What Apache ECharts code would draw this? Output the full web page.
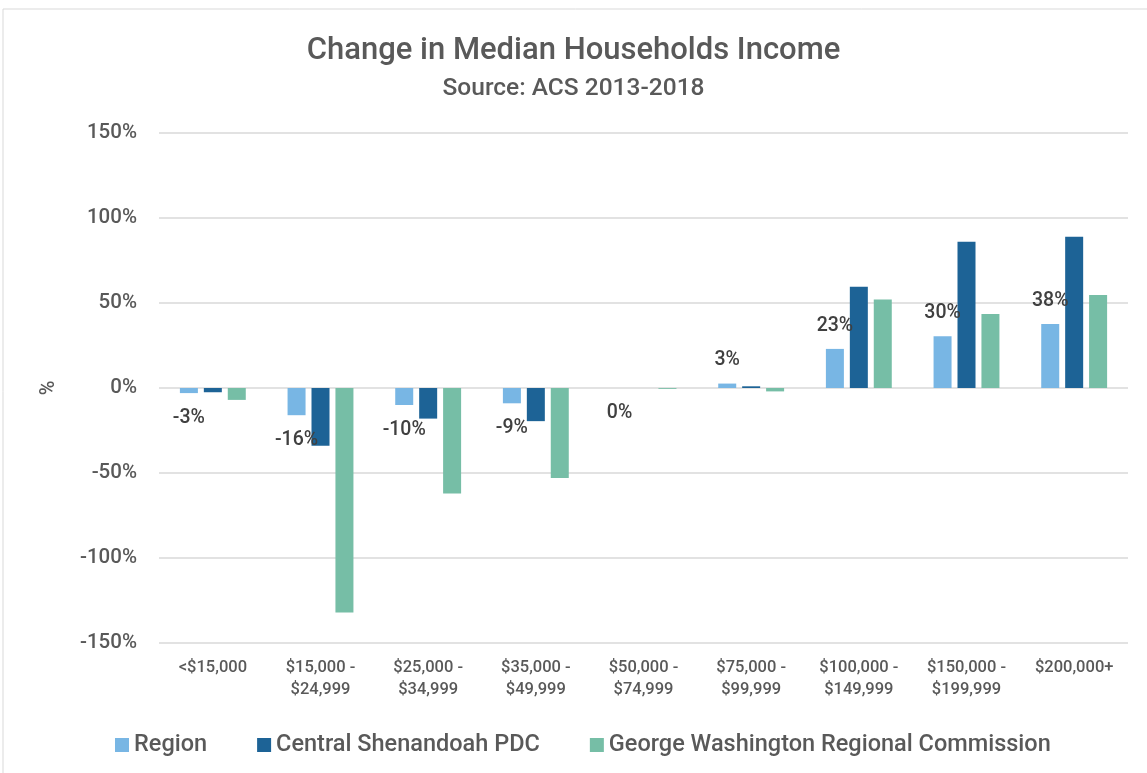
<!DOCTYPE html>
<html>
<head>
	<meta charset="UTF-8">
	<title>Change in Median Households Income</title>
	<script src="https://cdn.jsdelivr.net/npm/echarts@6/dist/echarts.min.js"></script>
	<style>
		html, body { margin: 0; padding: 0; background: #fff; }
		#main { width: 1147px; height: 773px; }
	</style>
</head>
<body>
<div id="main"></div>
<script>
	// categories (income brackets)
	var categories = ['<$15,000', '$15,000 -\n$24,999', '$25,000 -\n$34,999', '$35,000 -\n$49,999',
		'$50,000 -\n$74,999', '$75,000 -\n$99,999', '$100,000 -\n$149,999', '$150,000 -\n$199,999', '$200,000+'];

	// % change 2013-2018
	var region = [-3, -16, -10, -9, 0, 2.6, 23, 30.4, 37.7];
	var centralShenandoah = [-2.5, -34, -18, -19.5, 0, 1, 59.5, 86, 89];
	var georgeWashington = [-7, -132, -62, -53, -0.5, -2, 52, 43.5, 54.7];

	var yTicks = [-150, -100, -50, 0, 50, 100, 150];

	var textColor = '#595959';
	var font = 'Roboto';

	function initChart() {
		var myChart = echarts.init(document.getElementById('main'));

		// region labels: above positive bars, below negative / zero
		var regionData = region.map(function (v) {
			return {
				value: v,
				label: { position: v > 0 ? 'top' : 'bottom', distance: v > 0 ? 13 : 15 }
			};
		});

		var option = {
			title: {
				text: 'Change in Median Households Income',
				subtext: 'Source: ACS 2013-2018',
				left: 'center',
				top: 31,
				itemGap: 9,
				textStyle: { fontFamily: font, fontSize: 31, fontWeight: 500, color: textColor },
				subtextStyle: { fontFamily: font, fontSize: 24.5, fontWeight: 500, color: textColor }
			},
			legend: {
				left: 110,
				top: 728,
				itemWidth: 14,
				itemHeight: 14,
				itemGap: 50,
				itemStyle: { borderWidth: 0 },
				icon: 'rect',
				textStyle: { fontFamily: font, fontSize: 23.5, fontWeight: 500, color: textColor },
				data: ['Region', 'Central Shenandoah PDC', 'George Washington Regional Commission']
			},
			grid: { left: 159, right: 19, top: 133, bottom: 130 },
			graphic: [{
				type: 'rect',
				shape: { x: 3, y: 9, width: 1200, height: 800 },
				style: { fill: 'none', stroke: '#d9d9d9', lineWidth: 1 },
				silent: true
			}],
			xAxis: {
				type: 'category',
				data: categories,
				axisLine: { show: false },
				axisTick: { show: false },
				axisLabel: {
					fontFamily: font, fontSize: 16.5, fontWeight: 500, color: textColor,
					lineHeight: 22, margin: 14, interval: 0
				}
			},
			yAxis: {
				type: 'value',
				min: yTicks[0],
				max: yTicks[yTicks.length - 1],
				interval: 50,
				name: '%',
				nameLocation: 'middle',
				nameGap: 100,
				nameRotate: 90,
				nameTextStyle: { fontFamily: font, fontSize: 20, fontWeight: 500, color: textColor },
				axisLabel: {
					fontFamily: font, fontSize: 20.5, fontWeight: 500, color: textColor, margin: 22,
					formatter: function (v) { return v + '%'; }
				},
				splitLine: { lineStyle: { color: '#d9d9d9', width: 1.5 } }
			},
			series: [
				{
					name: 'Region',
					type: 'bar',
					data: regionData,
					barWidth: 18,
					barGap: '33%',
					itemStyle: { color: '#78B6E4' },
					label: {
						show: true,
						fontFamily: font, fontSize: 19.5, fontWeight: 500, color: '#404040',
						formatter: function (p) { return Math.round(p.value) + '%'; }
					}
				},
				{
					name: 'Central Shenandoah PDC',
					type: 'bar',
					data: centralShenandoah,
					barWidth: 18,
					barGap: '33%',
					itemStyle: { color: '#1D6396' }
				},
				{
					name: 'George Washington Regional Commission',
					type: 'bar',
					data: georgeWashington,
					barWidth: 18,
					barGap: '33%',
					itemStyle: { color: '#76BEA6' }
				}
			]
		};

		myChart.setOption(option);
	}

	initChart();
</script>
</body>
</html>
